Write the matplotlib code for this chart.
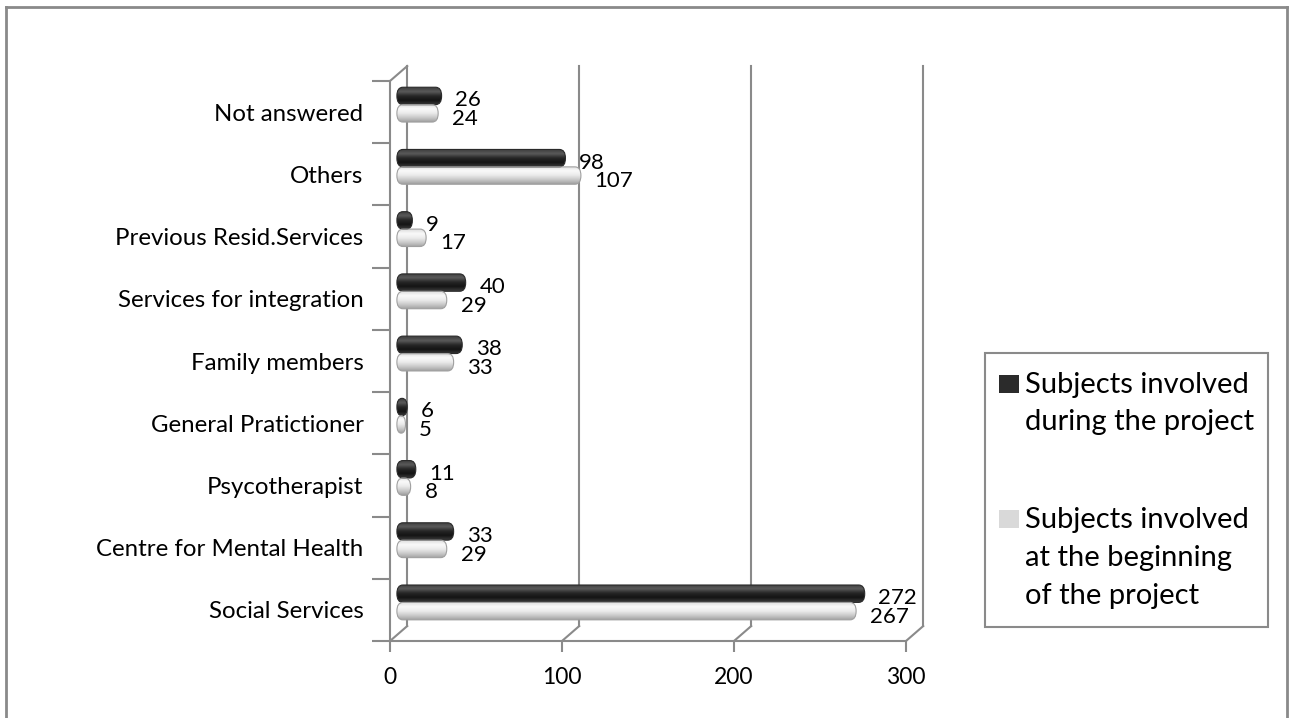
import matplotlib
matplotlib.use("Agg")
import matplotlib.pyplot as plt
import numpy as np
from matplotlib.patches import FancyBboxPatch, Rectangle
from matplotlib.colors import LinearSegmentedColormap
from matplotlib.lines import Line2D

plt.rcParams['font.family'] = ['Lato', 'DejaVu Sans']

# categories listed top to bottom as in the chart
categories = ["Not answered", "Others", "Previous Resid.Services",
              "Services for integration", "Family members",
              "General Pratictioner", "Psycotherapist",
              "Centre for Mental Health", "Social Services"]
during = [26, 98, 9, 40, 38, 6, 11, 33, 272]
beginning = [24, 107, 17, 29, 33, 5, 8, 29, 267]
x_ticks = [0, 100, 200, 300]
legend_labels = [["Subjects involved", "during the project"],
                 ["Subjects involved", "at the beginning", "of the project"]]

# bottom-to-top order for plotting
cats = categories[::-1]
dur = during[::-1]
beg = beginning[::-1]

W, H = 1289, 718
fig = plt.figure(figsize=(W / 100, H / 100), dpi=100)

# front plane of the pseudo 3D box
left_px, right_px, top_px, bot_px = 390, 906, 81, 641
ax = fig.add_axes([left_px / W, 1 - bot_px / H,
                   (right_px - left_px) / W, (bot_px - top_px) / H])
xmax = 300
nb = len(cats)
ax.set_xlim(0, xmax)
ax.set_ylim(0, nb)

grid_c = "#8a8a8a"
# depth offset (x units, band units)
dx, dy = 10, 0.24

for s in ["top", "right"]:
    ax.spines[s].set_visible(False)
for s in ["left", "bottom"]:
    ax.spines[s].set_color(grid_c)
    ax.spines[s].set_linewidth(1.5)

# back wall gridlines and floor connectors
for xv in x_ticks:
    ax.add_line(Line2D([xv + dx, xv + dx], [dy, nb + dy], color=grid_c, lw=1.5, clip_on=False))
    ax.add_line(Line2D([xv, xv + dx], [0, dy], color=grid_c, lw=1.5, clip_on=False))
ax.add_line(Line2D([0, dx], [nb, nb + dy], color=grid_c, lw=1.5, clip_on=False))

# ticks
ax.set_xticks(x_ticks)
ax.set_xticklabels([str(v) for v in x_ticks])
ax.tick_params(axis="x", length=8, width=1.5, color=grid_c, pad=11, labelsize=16.5)
centers = np.arange(nb) + 0.5
ax.set_yticks(centers)
ax.set_yticklabels(cats)
ax.tick_params(axis="y", which="major", length=0, pad=19, labelsize=17.3)
ax.set_yticks(np.arange(nb + 1), minor=True)
ax.tick_params(axis="y", which="minor", length=13, width=1.5, color=grid_c)

dark_cmap = LinearSegmentedColormap.from_list(
    "dark", ["#3a3a3a", "#141414", "#262626", "#5a5a5a", "#3c3c3c"])
light_cmap = LinearSegmentedColormap.from_list(
    "light", ["#a0a0a0", "#cacaca", "#ebebeb", "#fafafa", "#dcdcdc"])

shift = 4
bh = 0.28
r_full = 3.5


def cylinder(val, yc, cmap, edge):
    x0 = shift
    y0 = yc - bh / 2
    r = min(r_full, val / 2)
    patch = FancyBboxPatch((x0, y0), val, bh,
                           boxstyle="round,pad=0,rounding_size=%f" % r,
                           mutation_aspect=(bh / 2) / r,
                           facecolor="none", edgecolor=edge, lw=0.8, zorder=4)
    ax.add_patch(patch)
    grad = np.linspace(0, 1, 64).reshape(-1, 1)
    im = ax.imshow(grad, extent=[x0, x0 + val, y0, y0 + bh], aspect="auto",
                   cmap=cmap, origin="lower", zorder=3, interpolation="bilinear")
    im.set_clip_path(patch)


for i in range(nb):
    yc_d = centers[i] + 0.26
    yc_b = centers[i] - 0.02
    cylinder(dur[i], yc_d, dark_cmap, "#2a2a2a")
    cylinder(beg[i], yc_b, light_cmap, "#a0a0a0")
    ax.text(shift + dur[i] + 8, yc_d - 0.07, str(dur[i]), fontsize=16,
            va="center", ha="left", zorder=5)
    ax.text(shift + beg[i] + 8, yc_b - 0.09, str(beg[i]), fontsize=16,
            va="center", ha="left", zorder=5)

ax.set_xlim(0, xmax)
ax.set_ylim(0, nb)

# legend drawn by hand to keep the Excel layout
fig.patches.append(Rectangle((985 / W, 1 - 627 / H), (1268 - 985) / W, (627 - 353) / H,
                             transform=fig.transFigure, facecolor="white",
                             edgecolor="#8a8a8a", lw=1.5))
leg_colors = ["#2b2b2b", "#d9d9d9"]
leg_base = [[393, 430], [528, 566, 604]]
for c, bases, lines in zip(leg_colors, leg_base, legend_labels):
    fig.patches.append(Rectangle((999 / W, 1 - bases[0] / H), 20 / W, 18 / H,
                                 transform=fig.transFigure, facecolor=c, edgecolor="none"))
    for b, txt in zip(bases, lines):
        fig.text(1025 / W, 1 - b / H, txt, fontsize=21, va="baseline", ha="left")

# outer chart border
for xs, ys in [([6, 6], [7, H]), ([6, 1287], [7, 7]), ([1287, 1287], [7, H])]:
    fig.add_artist(Line2D([x / W for x in xs], [1 - y / H for y in ys],
                          transform=fig.transFigure, color="#8a8a8a", lw=2))

fig.savefig("out.png", dpi=100)
